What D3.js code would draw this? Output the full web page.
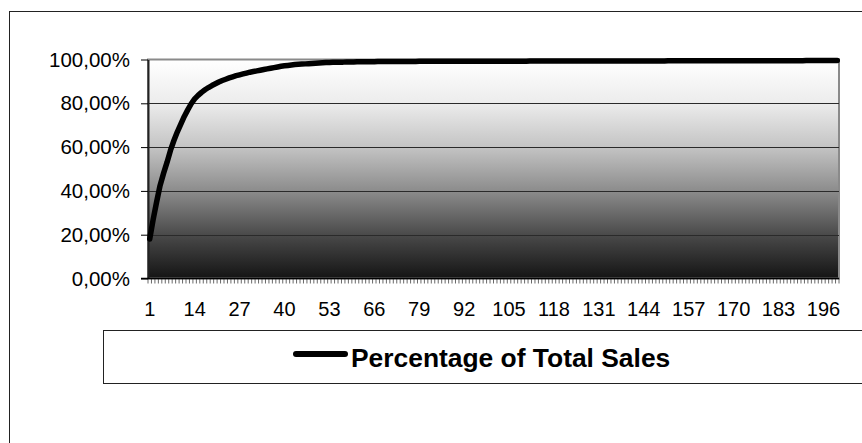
<!DOCTYPE html>
<html>
<head>
<meta charset="utf-8">
<script src="https://cdn.jsdelivr.net/npm/d3@7"></script>
<style>
  html, body { margin: 0; padding: 0; background: #fff; }
  text { font-family: 'Liberation Sans', Arial, sans-serif; }
</style>
</head>
<body>
<div id="chart"></div>
<script>
// Datos: porcentaje acumulado de ventas por producto (1..200)
const categories = d3.range(1, 201);
const cumulativePct = [
  18.0, 27.0, 35.0, 42.5, 48.0, 53.0, 58.5, 63.0, 67.0, 70.5,
  74.0, 77.0, 79.8, 82.0, 83.6, 85.0, 86.2, 87.2, 88.1, 88.9,
  89.7, 90.4, 91.0, 91.6, 92.1, 92.6, 93.0, 93.4, 93.8, 94.2,
  94.5, 94.8, 95.1, 95.4, 95.7, 96.0, 96.3, 96.6, 96.9, 97.1,
  97.3, 97.5, 97.7, 97.8, 97.9, 98.0, 98.1, 98.2, 98.3, 98.4,
  98.5, 98.6, 98.6, 98.7, 98.7, 98.8, 98.8, 98.9, 98.9, 98.9,
  99.0, 99.0, 99.0, 99.0, 99.0, 99.0, 99.1, 99.1, 99.1, 99.1,
  99.1, 99.1, 99.1, 99.1, 99.1, 99.1, 99.1, 99.1, 99.2, 99.2,
  99.2, 99.2, 99.2, 99.2, 99.2, 99.2, 99.2, 99.2, 99.2, 99.2,
  99.2, 99.2, 99.2, 99.2, 99.2, 99.2, 99.2, 99.2, 99.2, 99.2,
  99.2, 99.2, 99.2, 99.2, 99.2, 99.2, 99.2, 99.2, 99.2, 99.2,
  99.3, 99.3, 99.3, 99.3, 99.3, 99.3, 99.3, 99.3, 99.3, 99.3,
  99.3, 99.3, 99.3, 99.3, 99.3, 99.3, 99.3, 99.3, 99.3, 99.3,
  99.3, 99.3, 99.3, 99.3, 99.3, 99.3, 99.3, 99.3, 99.3, 99.3,
  99.3, 99.3, 99.3, 99.3, 99.3, 99.3, 99.3, 99.3, 99.3, 99.3,
  99.4, 99.4, 99.4, 99.4, 99.4, 99.4, 99.4, 99.4, 99.4, 99.4,
  99.4, 99.4, 99.4, 99.4, 99.4, 99.4, 99.4, 99.4, 99.4, 99.4,
  99.4, 99.4, 99.4, 99.4, 99.4, 99.4, 99.4, 99.4, 99.4, 99.4,
  99.4, 99.4, 99.4, 99.4, 99.4, 99.4, 99.4, 99.4, 99.4, 99.4,
  99.5, 99.5, 99.5, 99.5, 99.5, 99.5, 99.5, 99.5, 99.5, 99.5
];
const xTickLabels = [1, 14, 27, 40, 53, 66, 79, 92, 105, 118, 131, 144, 157, 170, 183, 196];
const yTickValues = [0, 20, 40, 60, 80, 100];
const seriesName = 'Percentage of Total Sales';

const w = 862;
const h = 443;
const plot = { left: 148, right: 839, top: 59.5, bottom: 278.5 };

const svg = d3.select('#chart')
  .append('svg')
  .attr('width', w)
  .attr('height', h);

// Marco exterior del gráfico
svg.append('rect')
  .attr('x', 9.5)
  .attr('y', 11.5)
  .attr('width', 900)
  .attr('height', 500)
  .attr('fill', '#fff')
  .attr('stroke', '#222')
  .attr('stroke-width', 1);

// Escalas
const x = d3.scaleBand()
  .domain(categories)
  .range([plot.left, plot.right])
  .padding(0);

const y = d3.scaleLinear()
  .domain([0, 100])
  .range([plot.bottom, plot.top]);

// Fondo degradado del área de trazado
const defs = svg.append('defs');
const grad = defs.append('linearGradient')
  .attr('id', 'plotGrad')
  .attr('x1', 0).attr('y1', 0)
  .attr('x2', 0).attr('y2', 1);
[[0, '#ffffff'], [0.2, '#ececec'], [0.4, '#c4c4c4'], [0.6, '#8c8c8c'], [0.8, '#4a4a4a'], [1, '#141414']]
  .forEach(s => grad.append('stop').attr('offset', s[0]).attr('stop-color', s[1]));

svg.append('rect')
  .attr('x', plot.left)
  .attr('y', plot.top)
  .attr('width', plot.right - plot.left)
  .attr('height', plot.bottom - plot.top)
  .attr('fill', 'url(#plotGrad)')
  .attr('stroke', '#8a8a8a')
  .attr('stroke-width', 2);

// Líneas de cuadrícula
svg.append('g')
  .selectAll('line')
  .data(yTickValues.filter(d => d > 0 && d < 100))
  .enter()
  .append('line')
  .attr('x1', plot.left)
  .attr('x2', plot.right)
  .attr('y1', d => Math.round(y(d)) + 0.5)
  .attr('y2', d => Math.round(y(d)) + 0.5)
  .attr('stroke', '#2a2a2a')
  .attr('stroke-width', 1);

// Eje y
const yAxis = svg.append('g')
  .attr('id', 'y-axis')
  .attr('transform', `translate(${plot.left},0)`)
  .call(d3.axisLeft(y)
    .tickValues(yTickValues)
    .tickSize(7)
    .tickSizeOuter(0)
    .tickPadding(11)
    .tickFormat(d => d.toFixed(2).replace('.', ',') + '%'));
yAxis.select('.domain').attr('stroke', '#222').attr('stroke-width', 2);
yAxis.selectAll('.tick line').attr('stroke', '#000');
yAxis.selectAll('text')
  .style('font-size', '20.5px')
  .attr('fill', '#000');

// Marcas menores del eje x (una por categoría)
svg.append('g')
  .selectAll('line')
  .data(categories.concat([null]))
  .enter()
  .append('line')
  .attr('x1', d => d === null ? plot.right : x(d))
  .attr('x2', d => d === null ? plot.right : x(d))
  .attr('y1', plot.bottom)
  .attr('y2', plot.bottom + 5)
  .attr('stroke', '#444')
  .attr('stroke-width', 0.8);

// Eje x
const xAxis = svg.append('g')
  .attr('id', 'x-axis')
  .attr('transform', `translate(0,${plot.bottom})`)
  .call(d3.axisBottom(x)
    .tickValues(xTickLabels)
    .tickSize(0)
    .tickPadding(23));
xAxis.select('.domain').remove();
xAxis.selectAll('text')
  .style('font-size', '20px')
  .attr('fill', '#000');

svg.append('line')
  .attr('x1', plot.left - 7)
  .attr('x2', plot.right)
  .attr('y1', plot.bottom)
  .attr('y2', plot.bottom)
  .attr('stroke', '#000')
  .attr('stroke-width', 1.5);

// Serie
const line = d3.line()
  .x((d, i) => x(categories[i]) + x.bandwidth() / 2)
  .y(d => y(d));

svg.append('path')
  .datum(cumulativePct)
  .attr('d', line)
  .attr('fill', 'none')
  .attr('stroke', '#000')
  .attr('stroke-width', 5.5)
  .attr('stroke-linejoin', 'round')
  .attr('stroke-linecap', 'round');

// Leyenda
const legend = svg.append('g').attr('id', 'legend');
legend.append('rect')
  .attr('x', 103.5)
  .attr('y', 330.5)
  .attr('width', 800)
  .attr('height', 53)
  .attr('fill', '#fff')
  .attr('stroke', '#222')
  .attr('stroke-width', 1);
legend.append('line')
  .attr('x1', 296)
  .attr('x2', 345)
  .attr('y1', 354)
  .attr('y2', 354)
  .attr('stroke', '#000')
  .attr('stroke-width', 6)
  .attr('stroke-linecap', 'round');
legend.append('text')
  .attr('x', 351)
  .attr('y', 367)
  .style('font-size', '26.4px')
  .style('font-weight', 'bold')
  .attr('fill', '#000')
  .text(seriesName);
</script>
</body>
</html>
